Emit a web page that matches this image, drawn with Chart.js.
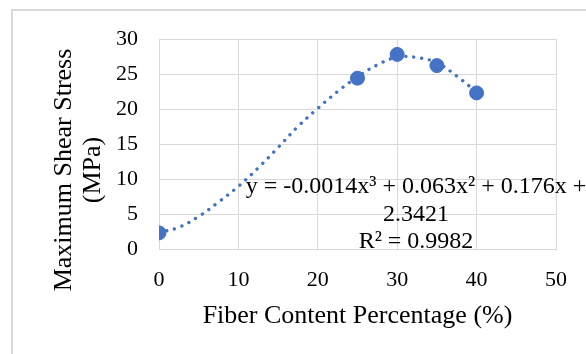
<!DOCTYPE html>
<html>
<head>
<meta charset="utf-8">
<script src="https://cdn.jsdelivr.net/npm/chart.js@4.4.0/dist/chart.umd.min.js"></script>
<style>
  body { margin: 0; background: #fff; }
  canvas { display: block; }
</style>
</head>
<body>
<canvas id="shearChart" width="586" height="354"></canvas>
<script>
// ====== DATA ======
const fiberPct = [0, 25, 30, 35, 40];
const shearStress = [2.3, 24.4, 27.8, 26.2, 22.3];
// dotted polynomial trendline
const trendX = [0, 2.5, 5, 7.5, 10, 12.5, 15, 17.5, 20, 22.5, 25, 27.5, 30, 32.5, 35, 37.5, 40];
const trendY = [2.35, 3.1, 4.65, 6.7, 8.95, 11.6, 14.5, 17.5, 20.1, 22.5, 24.6, 26.3, 27.4, 27.35, 26.6, 24.7, 22.4];
const xTicks = [0, 50, 10];   // min, max, step
const yTicks = [0, 30, 5];
const xTitle = "Fiber Content Percentage (%)";
const yTitle = ["Maximum Shear Stress", "(MPa)"];
const eqLines = ["y = -0.0014x³ + 0.063x² + 0.176x +", "2.3421", "R² = 0.9982"];

const blue = "#4472C4";
const gridGray = "#d9d9d9";
const serif = '"Liberation Serif", "Times New Roman", serif';

// ====== TEXT + FRAME PLUGIN ======
const decor = {
  id: 'decor',
  beforeDraw(chart) {
    const c = chart.ctx;
    c.save();
    c.strokeStyle = gridGray;
    c.lineWidth = 2;
    c.strokeRect(12, 10, 700, 500); // outer chart frame runs off the picture
    c.restore();
  },
  afterDraw(chart) {
    const c = chart.ctx;
    c.save();
    c.fillStyle = "#000";
    c.textAlign = "center";
    c.textBaseline = "alphabetic";
    // x title
    c.font = "26px " + serif;
    const a = chart.chartArea;
    c.fillText(xTitle, (a.left + a.right) / 2, 323);
    // y title, two lines
    yTitle.forEach((t, i) => {
      c.save();
      c.translate(71 + i * 29, 170);
      c.rotate(-Math.PI / 2);
      c.fillText(t, 0, 0);
      c.restore();
    });
    // trendline equation
    c.font = "24px " + serif;
    eqLines.forEach((t, i) => c.fillText(t, 416, 193 + i * 27.7));
    c.restore();
  }
};

// ====== CHART ======
const ctx = document.getElementById('shearChart').getContext('2d');
new Chart(ctx, {
  type: 'scatter',
  data: {
    datasets: [
      {
        label: 'Shear stress',
        data: fiberPct.map((x, i) => ({ x, y: shearStress[i] })),
        backgroundColor: blue,
        borderColor: blue,
        pointRadius: 7,
        pointHoverRadius: 7,
        order: 1
      },
      {
        label: 'Poly. trend',
        type: 'line',
        data: trendX.map((x, i) => ({ x, y: trendY[i] })),
        borderColor: blue,
        borderWidth: 3.4,
        borderDash: [0.01, 7.9],
        borderCapStyle: 'round',
        pointRadius: 0,
        tension: 0.4,
        fill: false,
        order: 2
      }
    ]
  },
  plugins: [decor],
  options: {
    responsive: false,
    animation: false,
    events: [],
    layout: { padding: { left: 0, top: 39, right: 30, bottom: 0 } },
    plugins: { legend: { display: false }, tooltip: { enabled: false } },
    scales: {
      x: {
        type: 'linear',
        min: xTicks[0], max: xTicks[1],
        afterFit: s => { s.height = 105; },
        ticks: { stepSize: xTicks[2], padding: 18, color: "#000", font: { family: serif, size: 22 } },
        grid: { color: gridGray, lineWidth: 1, drawTicks: false },
        border: { color: gridGray }
      },
      y: {
        min: yTicks[0], max: yTicks[1],
        afterFit: s => { s.width = 159; },
        ticks: { stepSize: yTicks[2], padding: 21, color: "#000", font: { family: serif, size: 22 } },
        grid: { color: gridGray, lineWidth: 1, drawTicks: false },
        border: { color: gridGray }
      }
    }
  }
});
</script>
</body>
</html>
